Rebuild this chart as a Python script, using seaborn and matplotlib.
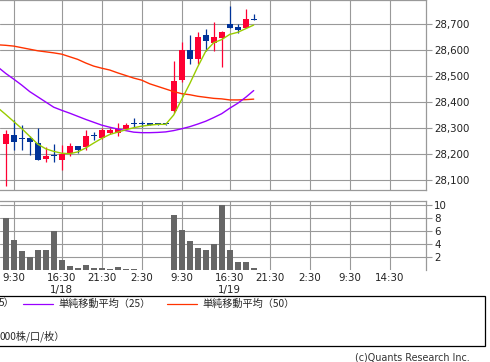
import numpy as np
import pandas as pd
import matplotlib
matplotlib.use("Agg")
import matplotlib.pyplot as plt
import seaborn as sns
from matplotlib.patches import Rectangle
from matplotlib.lines import Line2D

# ---------------- data ----------------
opens = [28238, 28272, 28261, 28262, 28241, 28180, 28194, 28177, 28203, 28231,
         28228, 28271, 28260, 28280, 28281, 28297, 28318, 28316, 28318, 28316,
         28315, 28367, 28486, 28600, 28567, 28658, 28628, 28647, 28700, 28689,
         28686, 28719]
highs = [28292, 28331, 28310, 28268, 28300, 28225, 28240, 28235, 28241, 28232,
         28292, 28284, 28300, 28300, 28318, 28318, 28340, 28328, 28318, 28316,
         28316, 28558, 28631, 28658, 28669, 28681, 28708, 28672, 28769, 28700,
         28758, 28738]
lows = [28077, 28215, 28216, 28198, 28176, 28168, 28168, 28140, 28192, 28205,
        28215, 28252, 28258, 28275, 28270, 28295, 28305, 28305, 28312, 28313,
        28313, 28359, 28478, 28547, 28547, 28597, 28597, 28536, 28685, 28667,
        28685, 28717]
closes = [28278, 28247, 28259, 28247, 28178, 28192, 28193, 28200, 28231, 28216,
          28268, 28270, 28291, 28292, 28295, 28312, 28316, 28315, 28313, 28314,
          28314, 28481, 28600, 28567, 28650, 28636, 28650, 28669, 28686, 28678,
          28719, 28717]
volumes = [8.0, 4.65, 3.0, 2.0, 3.1, 3.1, 6.0, 1.6, 0.65, 0.35,
           0.8, 0.35, 0.35, 0.2, 0.55, 0.2, 0.2, 0.05, 0.05, 0.05,
           0.05, 8.5, 6.25, 4.5, 3.5, 3.1, 4.05, 9.95, 3.1, 1.28,
           1.28, 0.35]
# moving averages, bar -1 .. 31
ma5 = [28378, 28352, 28325, 28298, 28268, 28238, 28220, 28210, 28203, 28201,
       28208, 28223, 28242, 28260, 28275, 28284, 28293, 28301, 28307, 28311,
       28314, 28314, 28350, 28410, 28470, 28535, 28595, 28628, 28640, 28660,
       28668, 28682, 28696]
ma25 = [28535, 28510, 28488, 28465, 28440, 28420, 28400, 28380, 28368, 28357,
        28345, 28333, 28322, 28311, 28303, 28296, 28290, 28284, 28282, 28282,
        28283, 28285, 28290, 28297, 28305, 28315, 28326, 28340, 28355, 28376,
        28395, 28418, 28444]
ma50 = [28620, 28618, 28615, 28609, 28603, 28597, 28593, 28589, 28584, 28574,
        28564, 28550, 28538, 28530, 28523, 28512, 28502, 28492, 28484, 28470,
        28460, 28450, 28440, 28432, 28428, 28422, 28418, 28414, 28412, 28408,
        28408, 28409, 28411]
tick_pos = [1, 7, 12, 17, 22, 28, 33, 38, 43, 48]
tick_labels = ["9:30", "16:30\n1/18", "21:30", "2:30", "9:30", "16:30\n1/19",
               "21:30", "2:30", "9:30", "14:30"]
price_ticks = [28100, 28200, 28300, 28400, 28500, 28600, 28700]
vol_ticks = [2, 4, 6, 8, 10]
legend_labels = ["5）", "単純移動平均（25）", "単純移動平均（50）"]
unit_label = "000株/口/枚）"
credit = "(c)Quants Research Inc."

# ---------------- style ----------------
sns.set_style("white")
plt.rcParams['font.family'] = ['DejaVu Sans', 'Noto Sans CJK JP']
RED = "#FF0033"
BLUE = "#003399"
GRID = "#999999"

W, H = 490, 362
fig = plt.figure(figsize=(W / 100, H / 100), dpi=100)


def px_axes(l, t, r, b, **kw):
    return fig.add_axes([l / W, 1 - b / H, (r - l) / W, (b - t) / H], **kw)


ax = px_axes(0, 0, 426, 190)
axv = px_axes(0, 201, 426, 270.4)

n = len(opens)
idx = np.arange(n)
o = np.array(opens, float); c = np.array(closes, float)
h = np.array(highs, float); l = np.array(lows, float)
up = c >= o
cols = np.where(up, RED, BLUE)

# candles
ax.vlines(idx, l, h, colors=cols, lw=0.9, zorder=3)
bottom = np.minimum(o, c)
height = np.maximum(np.abs(c - o), 4.0)
ax.bar(idx, height, bottom=bottom, width=0.75, color=cols, linewidth=0, zorder=4)

# moving averages
ma_df = pd.DataFrame({"i": np.arange(-1, n), "ma5": ma5, "ma25": ma25, "ma50": ma50})
sns.lineplot(data=ma_df, x="i", y="ma50", color="#FF3300", lw=1.0, ax=ax, zorder=5, estimator=None)
sns.lineplot(data=ma_df, x="i", y="ma25", color="#9900FF", lw=1.0, ax=ax, zorder=5, estimator=None)
sns.lineplot(data=ma_df, x="i", y="ma5", color="#99CC00", lw=1.0, ax=ax, zorder=6, estimator=None)

x0 = (0 - 5.7) / 8
x1 = (426 - 5.7) / 8
ax.set_xlim(x0, x1)
ax.set_ylim(28061.5, 28792.3)
ax.set_xlabel(""); ax.set_ylabel("")

# volume
vol_df = pd.DataFrame({"i": idx, "v": volumes})
sns.barplot(data=vol_df, x="i", y="v", native_scale=True, color="#666666",
            saturation=1, width=0.75, linewidth=0, ax=axv, zorder=3)
axv.set_xlim(x0, x1)
axv.set_ylim(0, 10.61)
axv.set_xlabel(""); axv.set_ylabel("")

for a in (ax, axv):
    a.set_xticks(tick_pos)
    a.grid(True, color=GRID, lw=0.8, zorder=0)
    a.set_axisbelow(True)
    a.spines['left'].set_visible(False)
    for s in ('top', 'right', 'bottom'):
        a.spines[s].set_color(GRID)
        a.spines[s].set_linewidth(0.9)
    a.yaxis.tick_right()
    a.tick_params(axis='y', which='both', right=True, left=False, length=4,
                  width=0.8, color=GRID, pad=2, labelsize=7.4, labelcolor="#222222")

axv.spines['bottom'].set_visible(False)
ax.set_yticks(price_ticks)
ax.set_yticklabels([f"{p:,}" for p in price_ticks])
ax.tick_params(axis='x', length=0, labelbottom=False)
axv.set_yticks(vol_ticks)
axv.set_yticklabels([str(v) for v in vol_ticks])
axv.set_xticklabels(tick_labels)
axv.tick_params(axis='x', length=0, pad=2, labelsize=7.4, labelcolor="#222222")

# legend box / notes (pixel overlay)
ov = fig.add_axes([0, 0, 1, 1], zorder=10)
ov.set_xlim(0, W); ov.set_ylim(H, 0); ov.axis('off')
ov.add_patch(Rectangle((-5, 295.7), 489.5, 50.5, fill=False, ec="black", lw=0.9))
fs_leg = 7.3
ov.text(-1, 303.5, legend_labels[0], fontsize=fs_leg, va='center', ha='left',
        family=['Noto Sans CJK JP', 'DejaVu Sans'])
ov.add_line(Line2D([23, 53], [303.5, 303.5], color="#9900FF", lw=0.9))
ov.text(58, 303.5, legend_labels[1], fontsize=fs_leg, va='center', ha='left',
        family=['Noto Sans CJK JP', 'DejaVu Sans'])
ov.add_line(Line2D([167, 197], [303.5, 303.5], color="#FF3300", lw=0.9))
ov.text(202, 303.5, legend_labels[2], fontsize=fs_leg, va='center', ha='left',
        family=['Noto Sans CJK JP', 'DejaVu Sans'])
ov.text(0, 336.7, unit_label, fontsize=fs_leg, va='center', ha='left',
        family=['Noto Sans CJK JP', 'DejaVu Sans'])
ov.text(470, 357.5, credit, fontsize=6.9, va='center', ha='right', color="#333333")

fig.savefig("out.png", dpi=100)
